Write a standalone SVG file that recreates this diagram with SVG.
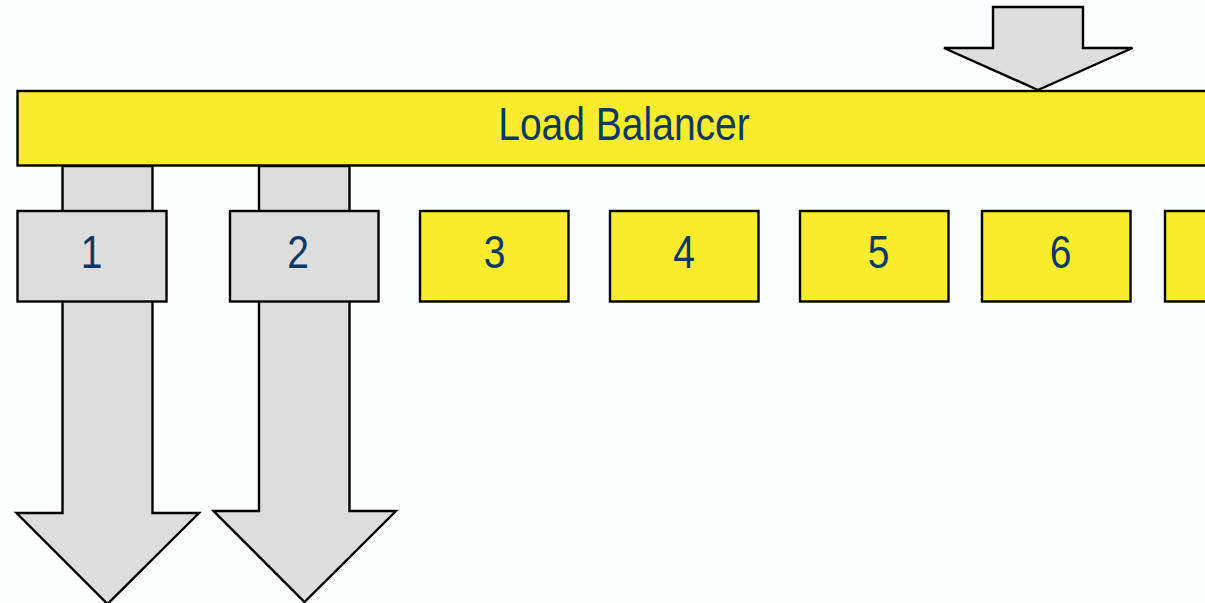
<svg xmlns="http://www.w3.org/2000/svg" width="1205" height="603" viewBox="0 0 1205 603">
<style>
.arrow{fill:#DDDDDD;stroke:#000;stroke-width:2.4;stroke-linejoin:miter}
.yel{fill:#F9EC2C;stroke:#000;stroke-width:2.4}
.gry{fill:#DDDDDD;stroke:#000;stroke-width:2.4}
.lbl{font-family:"Liberation Sans",Arial,sans-serif;font-size:47px;fill:#0B3868;text-anchor:middle}
</style>
<rect width="1205" height="603" fill="#FCFDFF"/>
<g id="connectors">
<polygon class="arrow" points="993,7 1083,7 1083,48 1132.5,48 1038,90 944,48 993,48"/>
<polygon class="arrow" points="62.5,166 152.5,166 152.5,513 199,513 107.5,604 16.5,513 62.5,513"/>
<polygon class="arrow" points="259,166 349.5,166 349.5,511 396,511 304.5,602 213.5,511 259,511"/>
</g>
<g id="load-balancer">
<rect class="yel" x="17.5" y="91" width="1200" height="74.5"/>
<text class="lbl" transform="translate(624,140) scale(0.83,1)">Load Balancer</text>
</g>
<g id="node1">
<rect class="gry" x="17.5" y="211" width="149" height="90.5"/>
<text class="lbl" transform="translate(91.5,268) scale(0.83,1)">1</text>
</g>
<g id="node2">
<rect class="gry" x="230" y="211" width="148.5" height="90.5"/>
<text class="lbl" transform="translate(298,268) scale(0.83,1)">2</text>
</g>
<g id="node3">
<rect class="yel" x="420" y="211" width="148.5" height="90.5"/>
<text class="lbl" transform="translate(494.5,268) scale(0.83,1)">3</text>
</g>
<g id="node4">
<rect class="yel" x="610" y="211" width="148.5" height="90.5"/>
<text class="lbl" transform="translate(684,268) scale(0.83,1)">4</text>
</g>
<g id="node5">
<rect class="yel" x="800" y="211" width="148.5" height="90.5"/>
<text class="lbl" transform="translate(878.5,268) scale(0.83,1)">5</text>
</g>
<g id="node6">
<rect class="yel" x="982" y="211" width="148.5" height="90.5"/>
<text class="lbl" transform="translate(1060.5,268) scale(0.83,1)">6</text>
</g>
<g id="node7">
<rect class="yel" x="1165" y="211" width="148.5" height="90.5"/>
</g>
</svg>
